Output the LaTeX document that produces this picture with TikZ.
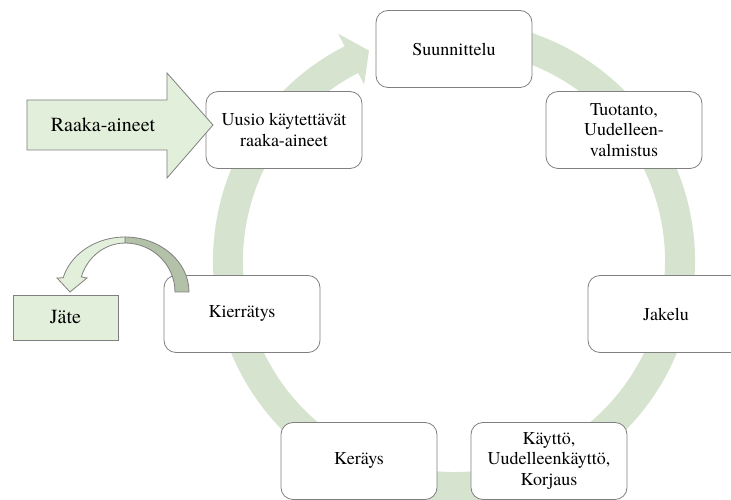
\documentclass[tikz,border=0pt]{standalone}
\usepackage{fontspec}
\setmainfont{TeX Gyre Termes}
\usepackage{tikz}
\usetikzlibrary{positioning, calc}
\definecolor{ringgreen}{RGB}{213,227,207}
\definecolor{lightgreen}{RGB}{226,239,218}
\definecolor{foldgreen}{RGB}{178,193,167}
\definecolor{edgegray}{RGB}{128,128,128}
\tikzstyle{stage} = [rectangle, rounded corners=12pt, minimum width=156pt, minimum height=77pt, align=center, inner sep=2pt, draw=edgegray, line width=0.8pt, fill=white, font=\fontsize{18}{20.5}\selectfont]
\tikzstyle{flow} = [draw=edgegray, line width=0.8pt, fill=lightgreen]

\begin{document}
\begin{tikzpicture}[x=1pt, y=1pt]
  \useasboundingbox (-454,-239) rectangle (277,261);

  % kierron rengas
  \fill[ringgreen] (80:241) arc[start angle=80, end angle=-243, radius=241]
    -- (117:255) -- (112:227) -- (117:198) -- (117:211)
    arc[start angle=-243, end angle=80, radius=211] -- cycle;

  \node[stage] (suun) at (0,212) {Suunnittelu};
  \node[stage] (tuot) at (170,131) {Tuotanto,\\Uudelleen-\\valmistus};
  \node[stage] (jak) at (212,-53) {Jakelu};
  \node[stage] (kay) at (95,-200) {Käyttö,\\Uudelleenkäyttö,\\Korjaus};
  \node[stage] (ker) at (-95,-200) {Keräys};
  \node[stage] (kier) at (-212,-53) {Kierrätys};
  \node[stage] (uusio) at (-170,131) {Uusio käytettävät\\raaka-aineet};

  % raaka-aineet sisään
  \draw[flow] (-427,161) -- (-287,161) -- (-287,188) -- (-241,136)
    -- (-287,83) -- (-287,111) -- (-427,111) -- cycle;
  \node[font=\fontsize{20}{22}\selectfont] (raaka) at (-351,136) {Raaka-aineet};

  % jäte ulos
  \node[flow, rectangle, minimum width=105pt, minimum height=45pt, font=\fontsize{20}{22}\selectfont] (jate) at (-388.5,-56.5) {Jäte};
  \draw[draw=edgegray, line width=0.8pt, fill=foldgreen] (-265,-31)
    arc[start angle=0, end angle=90, x radius=64, y radius=55]
    -- (-329,18) arc[start angle=90, end angle=0, x radius=50, y radius=49] -- cycle;
  \draw[flow] (-329,24) arc[start angle=90, end angle=165, x radius=64, y radius=55]
    -- (-397,-17) -- (-384,-31) -- (-367,-17) -- (-372.7,-15.9)
    arc[start angle=162, end angle=90, x radius=46, y radius=49] -- cycle;
\end{tikzpicture}
\end{document}
